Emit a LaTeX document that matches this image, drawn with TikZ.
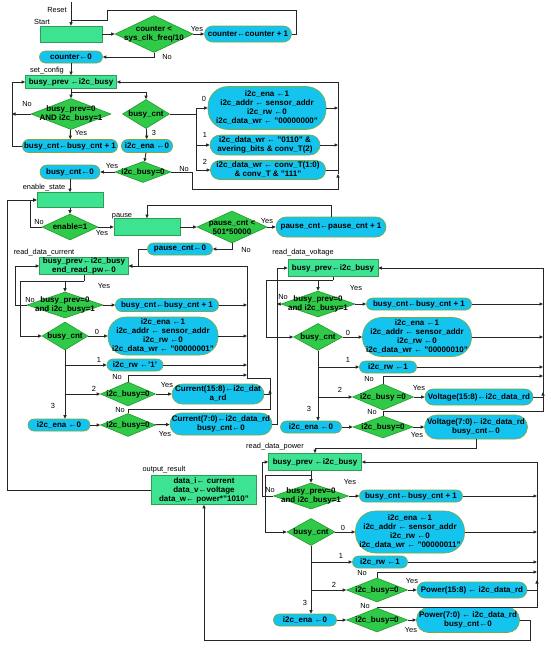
\documentclass[tikz,border=0pt]{standalone}
\usepackage{fontspec}
\setmainfont{Liberation Sans}
\usetikzlibrary{arrows.meta,shapes.geometric}
\definecolor{boxg}{HTML}{3DE391}
\definecolor{boxgb}{HTML}{2F9E55}
\definecolor{diag}{HTML}{2FCB48}
\definecolor{diagb}{HTML}{23962F}
\definecolor{cyanf}{HTML}{14C4EE}
\definecolor{cyand}{HTML}{7DA83A}
\tikzset{txt/.style={font=\bfseries\fontsize{8}{9}\selectfont,align=center,inner sep=0pt},
 sz/.style 2 args={minimum width=#1pt,minimum height=#2pt},
 gbox/.style={txt,rectangle,fill=boxg,draw=boxgb,line width=.6pt},
 cbox/.style={txt,rectangle,rounded corners=#1,fill=cyanf,draw=cyand,line width=.6pt},cbox/.default=6pt,
 dia/.style={diamond,fill=diag,draw=diagb,line width=.6pt,inner sep=0pt},
 dlab/.style={label={[txt]center:#1}},
 lbl/.style={font=\fontsize{7.4}{8}\selectfont,inner sep=0pt},
 wire/.style={draw=black!85,line width=.9pt},
 link/.style={wire,-{Triangle[length=3.5pt,width=3pt]}}}
\begin{document}
\begin{tikzpicture}[x=1pt,y=-1pt]
\useasboundingbox (0,0) rectangle (550,651);
% start and counter
\node[gbox,sz={62}{16}] (start) at (71,34) {};
\node[dia,sz={78}{37},dlab={counter <\\sys\_clk\_freq/10}] (dcnt) at (154,34) {};
\node[cbox=8pt,sz={87}{16}] (cntinc) at (248,34) {counter←counter + 1};
\node[cbox,sz={63}{12}] (cnt0) at (71,57) {counter←0};
% set_config
\node[gbox,sz={91}{13}] (bp1) at (71,82) {busy\_prev ←i2c\_busy};
\node[dia,sz={80}{31},dlab={busy\_prev=0\\AND i2c\_busy=1}] (dbp1) at (71,114) {};
\node[dia,sz={47}{29},dlab={busy\_cnt}] (dbc1) at (146,114) {};
\node[cbox,sz={95}{13}] (bcinc1) at (70,146) {busy\_cnt←busy\_cnt + 1};
\node[cbox,sz={51}{13}] (ena1) at (147,146) {i2c\_ena ←0};
\node[dia,sz={56}{21},dlab={i2c\_busy=0}] (dib1) at (143,172) {};
\node[cbox=7pt,sz={60}{14}] (bc01) at (70,172) {busy\_cnt←0};
\node[cbox=20pt,sz={118}{43}] (wr0) at (267,108) {i2c\_ena ←1\\i2c\_addr ← sensor\_addr\\i2c\_rw ←0\\i2c\_data\_wr ← "00000000"};
\node[cbox=10pt,sz={110}{20}] (wr1) at (265,145) {i2c\_data\_wr ← "0110" \&\\avering\_bits \& conv\_T(2)};
\node[cbox=9pt,sz={115}{19}] (wr2) at (268,170) {i2c\_data\_wr ← conv\_T(1:0)\\\& conv\_T \& "111"};
% enable_state and pause
\node[gbox,sz={66}{15}] (en) at (70,200) {};
\node[dia,sz={56}{26},dlab={enable=1}] (den) at (70,227) {};
\node[gbox,sz={66}{17}] (pause) at (147,227) {};
\node[dia,sz={70}{32},dlab={pause\_cnt <\\501*50000}] (dpc) at (232,227) {};
\node[cbox=10pt,sz={110}{20}] (pcinc) at (331,227) {pause\_cnt←pause\_cnt + 1};
\node[cbox,sz={65}{12}] (pc0) at (180,249) {pause\_cnt←0};
% read_data_current
\node[gbox,sz={89}{17}] (bpc) at (84,266) {busy\_prev←i2c\_busy\\end\_read\_pw←0};
\node[dia,sz={76}{26},dlab={busy\_prev=0\\and i2c\_busy=1}] (dbpc) at (65,305) {};
\node[cbox,sz={103}{13}] (bcincc) at (167,305) {busy\_cnt←busy\_cnt + 1};
\node[dia,sz={46}{28},dlab={busy\_cnt}] (dbcc) at (65,336) {};
\node[cbox=18pt,sz={110}{38}] (wrc0) at (163,336) {i2c\_ena ←1\\i2c\_addr ← sensor\_addr\\i2c\_rw ←0\\i2c\_data\_wr ← "00000001"};
\node[cbox,sz={56}{12}] (rwc) at (135,365) {i2c\_rw ←'1'};
\node[dia,sz={55}{24},dlab={i2c\_busy=0}] (dibc2) at (128,394) {};
\node[cbox=10pt,sz={92}{20}] (cur1) at (218,394) {Current(15:8)←i2c\_dat\\a\_rd};
\node[cbox,sz={62}{12}] (enac) at (59,425) {i2c\_ena ←0};
\node[dia,sz={55}{23},dlab={i2c\_busy=0}] (dibc3) at (128,425) {};
\node[cbox=11pt,sz={102}{22}] (cur2) at (221,424) {Current(7:0)←i2c\_data\_rd\\busy\_cnt←0};
% read_data_voltage
\node[gbox,sz={90}{17}] (bpv) at (333,268) {busy\_prev←i2c\_busy};
\node[dia,sz={74}{26},dlab={busy\_prev=0\\and i2c\_busy=1}] (dbpv) at (318,304) {};
\node[cbox,sz={105}{12}] (bcincv) at (419,304) {busy\_cnt←busy\_cnt + 1};
\node[dia,sz={49}{27},dlab={busy\_cnt}] (dbcv) at (318,337) {};
\node[cbox=19pt,sz={109}{39}] (wrv0) at (417,337) {i2c\_ena ←1\\i2c\_addr ← sensor\_addr\\i2c\_rw ←0\\i2c\_data\_wr ← "00000010"};
\node[cbox,sz={57}{12}] (rwv) at (388,367) {i2c\_rw ←1};
\node[dia,sz={61}{26},dlab={i2c\_busy =0}] (dibv2) at (383,397) {};
\node[cbox=8pt,sz={108}{16}] (vol1) at (479,397) {Voltage(15:8)←i2c\_data\_rd};
\node[cbox,sz={61}{12}] (enav) at (311,427) {i2c\_ena ←0};
\node[dia,sz={60}{22},dlab={i2c\_busy=0}] (dibv3) at (383,427) {};
\node[cbox=12pt,sz={103}{24}] (vol2) at (476,427) {Voltage(7:0)←i2c\_data\_rd\\busy\_cnt←0};
% read_data_power
\node[gbox,sz={93}{17}] (bpp) at (315,462) {busy\_prev ←i2c\_busy};
\node[dia,sz={75}{26},dlab={busy\_prev=0\\and i2c\_busy=1}] (dbpp) at (311,496) {};
\node[cbox,sz={103}{12}] (bcincp) at (411,496) {busy\_cnt←busy\_cnt + 1};
\node[dia,sz={48}{27},dlab={busy\_cnt}] (dbcp) at (311,532) {};
\node[cbox=20pt,sz={109}{42}] (wrp0) at (410,532) {i2c\_ena ←1\\i2c\_addr ← sensor\_addr\\i2c\_rw ←0\\i2c\_data\_wr ← "00000011"};
\node[cbox,sz={55}{12}] (rwp) at (380,562) {i2c\_rw ←1};
\node[dia,sz={61}{24},dlab={i2c\_busy=0}] (dibp2) at (377,590) {};
\node[cbox=8pt,sz={110}{16}] (pow1) at (472,590) {Power(15:8) ← i2c\_data\_rd};
\node[cbox,sz={63}{12}] (enap) at (305,620) {i2c\_ena ←0};
\node[dia,sz={61}{24},dlab={i2c\_busy=0}] (dibp3) at (377,620) {};
\node[cbox=12pt,sz={103}{25}] (pow2) at (468,620) {Power(7:0) ← i2c\_data\_rd\\busy\_cnt←0};
% output_result
\node[gbox,sz={105}{29}] (out) at (204,490) {data\_i← current\\data\_v←voltage\\data\_w← power*"1010"};
% state names
\foreach \n/\p/\t in {sreset/{(57,10)}/Reset,sstart/{(42,22)}/Start,sset/{(47,71)}/set\_config,sen/{(44,188)}/enable\_state,spause/{(122,216)}/pause,scur/{(44,253)}/read\_data\_current,svol/{(303,253)}/read\_data\_voltage,spow/{(275,447)}/read\_data\_power,sout/{(164,470)}/output\_result}
  \node[lbl] (\n) at \p {\t};
% yes / no / case labels
\foreach \n/\p/\t in {a1/{(197,29)}/Yes,a2/{(167,57)}/No,a3/{(27,104)}/No,a4/{(81,133)}/Yes,a5/{(154,133)}/3,a6/{(204,99)}/0,a7/{(205,135)}/1,a8/{(205,162)}/2,a9/{(112,166)}/Yes,a10/{(184,169)}/No,
  b1/{(39,222)}/No,b2/{(102,233)}/Yes,b3/{(267,221)}/Yes,b4/{(246,250)}/No,
  c1/{(104,286)}/Yes,c2/{(30,300)}/No,c3/{(97,332)}/0,c4/{(99,360)}/1,c5/{(117,377)}/No,c6/{(94,389)}/2,c7/{(167,385)}/Yes,c8/{(53,406)}/3,c9/{(120,410)}/No,c10/{(165,434)}/Yes,
  d1/{(283,297)}/No,d2/{(356,288)}/Yes,d3/{(348,333)}/0,d4/{(348,360)}/1,d5/{(369,379)}/No,d6/{(340,390)}/2,d7/{(419,388)}/Yes,d8/{(309,409)}/3,d9/{(372,412)}/No,d10/{(417,435)}/Yes,
  e1/{(270,490)}/No,e2/{(350,482)}/Yes,e3/{(343,528)}/0,e4/{(341,556)}/1,e5/{(362,573)}/No,e6/{(334,585)}/2,e7/{(412,581)}/Yes,e8/{(305,603)}/3,e9/{(365,606)}/No,e10/{(411,630)}/Yes}
  \node[lbl] (\n) at \p {\t};
% connectors: start and counter
\coordinate (rst) at (71,2);
\draw[link] (rst) -- (start.north);
\draw[link] (start) -- (dcnt);\draw[link] (dcnt) -- (cntinc);
\draw[wire] (cntinc.east) -- ++(5,0) |- (107,10) |- (71,20);
\draw[link] (dcnt.south) |- (cnt0.east);\draw[link] (cnt0) -- (bp1);
% set_config
\draw[link] (bp1) -- (dbp1);\draw[link] (71,92) -| (dbc1.north);
\draw[link] (dbp1) -- (bcinc1);\draw[link] (dbp1.west) -- (12,114);
\draw[link] (bcinc1.west) -| (12,82) -- (bp1.west);
\draw[link] (dbc1) -- (ena1);\draw[link] (ena1) -- (dib1);\draw[link] (dib1) -- (bc01);
\draw[wire] (dbc1.east) -- (196,114);\draw[wire] (196,108) -- (196,170);
\draw[link] (196,108) -- (wr0.west);\draw[link] (196,145) -- (wr1.west);\draw[link] (196,170) -- (wr2.west);
\draw[link] (wr0.east) -- (338,108);\draw[link] (wr1.east) -- (338,145);\draw[wire] (wr2.east) -- (338,170);
\draw[link] (dib1.east) -| (192,189) -| (338,174);\draw[link] (338,174) |- (bp1.east);
\draw[link] (bc01) -- (en);
% enable_state and pause
\draw[link] (en) -- (den);\draw[link] (den.west) -| (30,200) -- (en.west);
\draw[link] (out.west) -| (7,200) -- (en.west);
\draw[link] (den) -- (pause);\draw[link] (pause) -- (dpc);\draw[link] (dpc) -- (pcinc);
\draw[link] (pcinc.north) |- (147,205) -- (pause.north);
\draw[link] (dpc.south) |- (pc0.east);\draw[link] (pc0.west) -| (138,266) -- (bpc.east);
% read_data_current
\draw[wire] (bpc.south) -- (84,281);\draw[link] (84,281) -| (dbpc.north);\draw[link] (84,281) -| (20,336) -- (dbcc.west);
\draw[link] (dbpc.west) -| (15,266) -- (bpc.west);
\draw[link] (dbpc) -- (bcincc);\draw[link] (dbcc) -- (wrc0);
\draw[link] (dbcc.south) -- (dbcc.south |- enac.north);
\draw[link] (65,365) -- (rwc.west);\draw[link] (65,394) -- (dibc2.west);
\draw[link] (dibc2) -- (cur1);\draw[link] (enac) -- (dibc3);\draw[link] (dibc3) -- (cur2);
\draw[link] (bcincc.east) -- (247,305);\draw[link] (wrc0.east) -- (247,336);\draw[link] (rwc.east) -- (247,365);
\draw[link] (dibc2.north) |- (247,375);\draw[link] (cur1.east) -| (270,390);
\draw[link] (dibc3.north) |- (270,409) -- (270,378) -| (247,266) -- (bpc.east);
\draw[link] (cur2.east) -| (277,268) -- (bpv.west);
% read_data_voltage
\draw[wire] (bpv.south) -- (333,280);\draw[link] (333,280) -| (dbpv.north);\draw[link] (333,280) -| (266,337) -- (dbcv.west);
\draw[link] (dbpv.west) -- (277,304);
\draw[link] (dbpv) -- (bcincv);\draw[link] (dbcv) -- (wrv0);
\draw[link] (dbcv.south) -- (dbcv.south |- enav.north);
\draw[link] (318,367) -- (rwv.west);\draw[link] (318,397) -- (dibv2.west);
\draw[link] (dibv2) -- (vol1);\draw[link] (enav) -- (dibv3);\draw[link] (dibv3) -- (vol2);
\draw[link] (bcincv.east) -- (543,304);\draw[link] (wrv0.east) -- (543,337);\draw[link] (rwv.east) -- (543,367);
\draw[link] (dibv2.north) |- (543,376);\draw[link] (vol1.east) -| (543,392);
\draw[link] (dibv3.north) |- (543,411) -- (543,268) -- (bpv.east);
\draw[link] (vol2.south) -- ++(0,9) -| (bpp.north);
% read_data_power
\draw[link] (bpp.south -| dbpp) -- (dbpp.north);\draw[link] (311,475) -| (265,532) -- (dbcp.west);
\draw[link] (dbpp.west) -| (262,462) -- (bpp.west);
\draw[link] (dbpp) -- (bcincp);\draw[link] (dbcp) -- (wrp0);
\draw[link] (dbcp.south) -- (dbcp.south |- enap.north);
\draw[link] (311,562) -- (rwp.west);\draw[link] (311,590) -- (dibp2.west);
\draw[link] (dibp2) -- (pow1);\draw[link] (enap) -- (dibp3);\draw[link] (dibp3) -- (pow2);
\draw[link] (bcincp.east) -- (537,496);\draw[link] (wrp0.east) -- (537,532);\draw[link] (rwp.east) -- (537,562);
\draw[link] (dibp2.north) |- (537,572);\draw[link] (pow1.east) -| (537,580);
\draw[link] (dibp3.north) |- (537,607) -- (537,462) -- (bpp.east);
\draw[link] (pow2.east) -| (530,640) -| (out.south);
\end{tikzpicture}
\end{document}
